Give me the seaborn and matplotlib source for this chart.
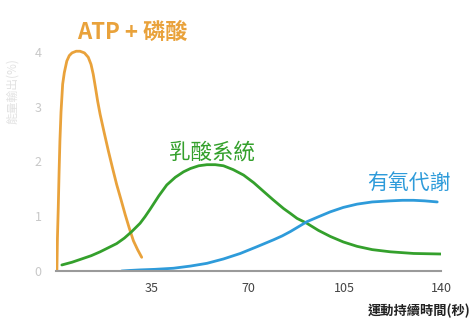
import matplotlib
matplotlib.use("Agg")
import matplotlib.pyplot as plt
import seaborn as sns
import pandas as pd

# ---- data ----
atp_x = [0.5, 0.7, 1.0, 1.3, 1.6, 2.0, 2.6, 3.2, 4.1, 5.0, 6.0, 7.5, 8.9, 10.5, 11.9,
         12.9, 13.7, 14.5, 15.3, 16.2, 17.7, 19.2, 20.7, 22.2, 23.8, 25.3, 26.8, 28.3, 29.8, 31.3]
atp_y = [0.0, 0.6, 1.15, 1.8, 2.37, 2.9, 3.41, 3.62, 3.83, 3.93, 3.98, 4.01, 4.01, 3.98, 3.90,
         3.77, 3.59, 3.35, 3.10, 2.86, 2.52, 2.19, 1.88, 1.58, 1.30, 1.03, 0.78, 0.55, 0.39, 0.25]

lactic_x = [2.3, 6.0, 10.1, 13.0, 16.2, 19.0, 22.2, 25.0, 27.7, 30.7, 32.5, 34.4, 37.5, 40.4,
            43.5, 46.5, 49.0, 52.0, 55.0, 58.0, 61.0, 64.5, 68.3, 72.0, 75.6, 79.0, 82.8,
            85.3, 87.7, 91.3, 95.5, 99.8, 104.5, 109.5, 115.0, 121.6, 130.0, 140.0]
lactic_y = [0.11, 0.16, 0.23, 0.28, 0.35, 0.42, 0.50, 0.60, 0.72, 0.87, 0.99, 1.13, 1.37, 1.57,
            1.71, 1.81, 1.87, 1.92, 1.94, 1.94, 1.92, 1.85, 1.75, 1.61, 1.45, 1.30, 1.14,
            1.05, 0.96, 0.87, 0.74, 0.63, 0.53, 0.45, 0.39, 0.35, 0.32, 0.31]

aerobic_x = [24.0, 27.0, 30.7, 36.0, 42.8, 49.0, 55.0, 61.0, 67.1, 73.0, 79.2, 82.3, 85.3,
             88.3, 91.3, 95.5, 99.8, 104.5, 109.5, 115.0, 121.6, 126.0, 130.0, 134.0, 138.6]
aerobic_y = [0.0, 0.01, 0.02, 0.03, 0.05, 0.09, 0.14, 0.22, 0.32, 0.44, 0.57, 0.64, 0.72,
             0.81, 0.90, 0.99, 1.08, 1.16, 1.22, 1.26, 1.28, 1.29, 1.29, 1.28, 1.26]

series_names = ["ATP + 磷酸", "乳酸系統", "有氧代謝"]
x_ticks = [35, 70, 105, 140]
y_ticks = [0, 1, 2, 3, 4]
x_title = "運動持續時間(秒)"
y_title = "能量輸出(%)"

colors = {"ATP + 磷酸": "#E9A23B", "乳酸系統": "#34A02C", "有氧代謝": "#2E9BDA"}

df = pd.concat([
    pd.DataFrame({"t": atp_x, "v": atp_y, "s": series_names[0]}),
    pd.DataFrame({"t": lactic_x, "v": lactic_y, "s": series_names[1]}),
    pd.DataFrame({"t": aerobic_x, "v": aerobic_y, "s": series_names[2]}),
], ignore_index=True)

sns.set_theme(style="white")
plt.rcParams["font.family"] = ["Noto Sans CJK TC", "DejaVu Sans"]

fig = plt.figure(figsize=(4.76, 3.29), dpi=100)
ax = fig.add_axes([0.1166, 0.1763, 0.81, 0.6996])

sns.lineplot(data=df, x="t", y="v", hue="s", palette=colors, sort=False,
             estimator=None, linewidth=2.0, legend=False, ax=ax)
for line in ax.get_lines():
    line.set_solid_joinstyle("round")
    line.set_solid_capstyle("round")

ax.set_xlim(0, 140)
ax.set_ylim(0, 4.2)
ax.set_xticks(x_ticks)
ax.set_xticklabels([str(t) for t in x_ticks], color="#444444", fontsize=9)
ax.set_yticks(y_ticks)
ax.set_yticklabels([str(t) for t in y_ticks], color="#c8c8c8", fontsize=9)
ax.tick_params(axis="both", length=0, pad=8)
ax.tick_params(axis="y", pad=10)

for side in ["top", "right", "left"]:
    ax.spines[side].set_visible(False)
ax.spines["bottom"].set_color("#9a9a9a")
ax.spines["bottom"].set_linewidth(1.5)
ax.set_xlabel("")
ax.set_ylabel(y_title, color="#e2e2e2", fontsize=8.5)
ax.yaxis.set_label_coords(-0.095, 0.78)

ax.text(27.8, 4.36, series_names[0], color=colors[series_names[0]], fontsize=16,
        fontweight="bold", ha="center", va="center")
ax.text(56.9, 2.17, series_names[1], color=colors[series_names[1]], fontsize=15.5,
        fontweight="medium", ha="center", va="center")
ax.text(128.2, 1.6, series_names[2], color=colors[series_names[2]], fontsize=15,
        fontweight="medium", ha="center", va="center")

fig.text(470 / 476, 1 - 311 / 329, x_title, ha="right", va="center",
         fontsize=9.5, fontweight="bold", color="#222222")

fig.savefig("out.png", dpi=100)
